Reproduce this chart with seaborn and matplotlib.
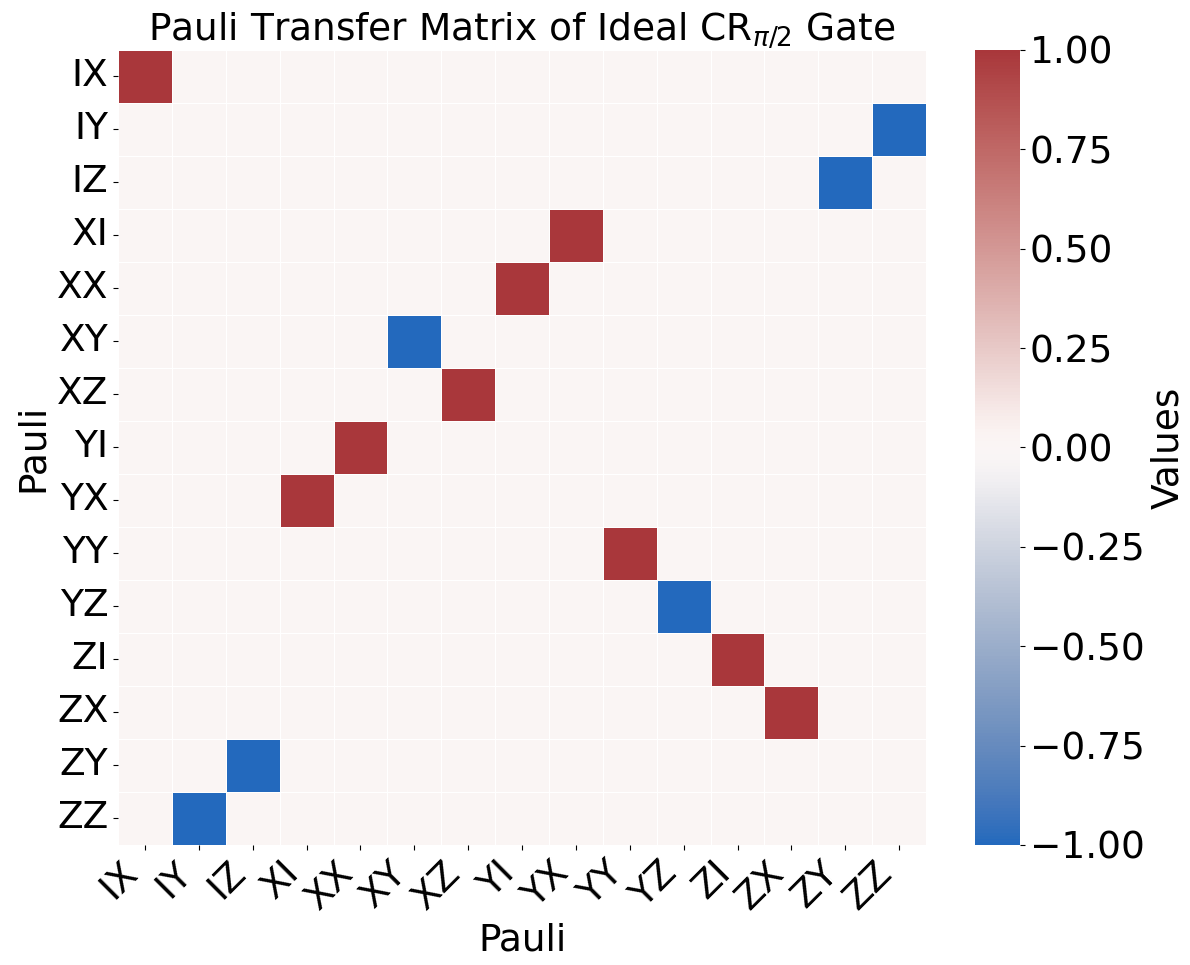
import numpy as np
import pandas as pd
import matplotlib
matplotlib.use("Agg")
import matplotlib.pyplot as plt
import seaborn as sns

paulis = ["IX", "IY", "IZ", "XI", "XX", "XY", "XZ", "YI", "YX", "YY", "YZ", "ZI", "ZX", "ZY", "ZZ"]

# Nonzero entries of the transfer matrix: (row, column, value)
rows = ["IX", "IY", "IZ", "XI", "XX", "XY", "XZ", "YI", "YX", "YY", "YZ", "ZI", "ZX", "ZY", "ZZ"]
cols = ["IX", "ZZ", "ZY", "YX", "YI", "XY", "XZ", "XX", "XI", "YY", "YZ", "ZI", "ZX", "IZ", "IY"]
vals = [1, -1, -1, 1, 1, -1, 1, 1, 1, 1, -1, 1, 1, -1, -1]

ptm = pd.DataFrame(0.0, index=paulis, columns=paulis)
for r, c, v in zip(rows, cols, vals):
    ptm.loc[r, c] = v

plt.rcParams["font.family"] = ["DejaVu Sans"]
fs = 27

fig = plt.figure(figsize=(11.9, 9.65), dpi=100)
ax = fig.add_axes([0.0992, 0.1244, 0.6790, 0.8238])
cax = fig.add_axes([0.8193, 0.1244, 0.0378, 0.8238])

sns.heatmap(ptm, ax=ax, cbar_ax=cax, cmap="vlag", vmin=-1, vmax=1,
            linewidths=0.5, linecolor="white",
            cbar_kws={"label": "Values"})

ax.set_title(r"Pauli Transfer Matrix of Ideal CR$_{\pi/2}$ Gate", fontsize=fs)
ax.set_xlabel("Pauli", fontsize=fs)
ax.set_ylabel("Pauli", fontsize=fs)
ax.set_xticklabels(paulis, rotation=45, ha="right", fontsize=fs)
ax.set_yticklabels(paulis, rotation=0, fontsize=fs)

cbar = ax.collections[0].colorbar
cbar.ax.tick_params(labelsize=fs)
cbar.set_ticks([-1, -0.75, -0.5, -0.25, 0, 0.25, 0.5, 0.75, 1])
cbar.set_ticklabels(["\u22121.00", "\u22120.75", "\u22120.50", "\u22120.25", "0.00", "0.25", "0.50", "0.75", "1.00"])
cbar.set_label("Values", fontsize=fs)
cbar.outline.set_visible(False)

fig.savefig("out.png", dpi=100)
